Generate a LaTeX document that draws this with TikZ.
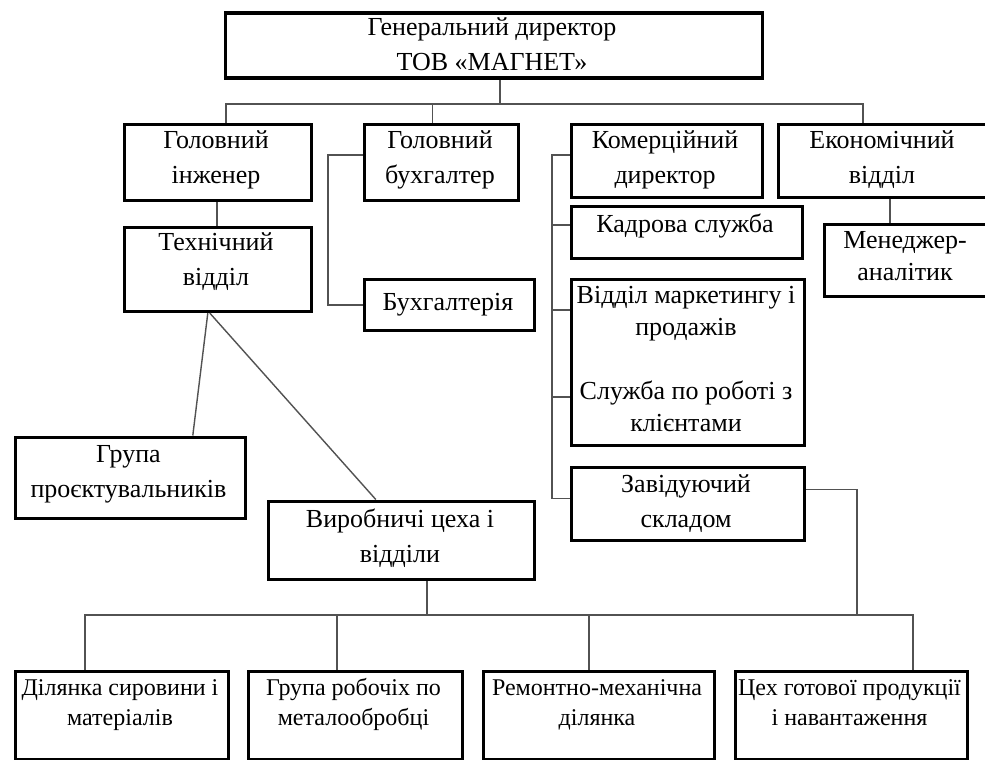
\documentclass[tikz,border=0pt]{standalone}
\usepackage{fontspec}
\setmainfont{Liberation Serif}
\begin{document}
\begin{tikzpicture}[x=1pt,y=-1pt,
  box/.style={draw=black, line width=3.6pt, inner sep=0pt, anchor=north west},
  txt/.style={inner sep=0pt, anchor=north, align=center,
    font=\fontsize{26}{35}\selectfont},
  tight/.style={font=\fontsize{26}{32}\selectfont},
  bottomtxt/.style={font=\fontsize{24}{30}\selectfont},
  conn/.style={draw=black!68, line width=1.4pt}]
\useasboundingbox (0,0) rectangle (985,760);
\clip (0,0) rectangle (985,760);
\fill[white] (0,0) rectangle (985,760);

% ---------- boxes ----------
\node[box, minimum width=537pt, minimum height=65pt] (ceo) at (223.5,11.5) {};
\node[box, minimum width=187pt, minimum height=76pt] (gi) at (122.5,122.5) {};
\node[box, minimum width=187pt, minimum height=84pt] (td) at (122.5,225.5) {};
\node[box, minimum width=154pt, minimum height=76pt] (gb) at (362.5,122.5) {};
\node[box, minimum width=170pt, minimum height=51pt] (bh) at (362.5,277.5) {};
\node[box, minimum width=191pt, minimum height=73pt] (kd) at (569.5,122.5) {};
\node[box, minimum width=211pt, minimum height=73pt] (ev) at (776.5,122.5) {};
\node[box, minimum width=231pt, minimum height=52pt] (ks) at (569.5,204.5) {};
\node[box, minimum width=233pt, minimum height=166pt] (vm) at (569.5,277.5) {};
\node[box, minimum width=233pt, minimum height=73pt] (zs) at (569.5,465.5) {};
\node[box, minimum width=165pt, minimum height=72pt] (ma) at (822.5,222.5) {};
\node[box, minimum width=230pt, minimum height=81pt] (gp) at (13.5,435.5) {};
\node[box, minimum width=266pt, minimum height=78pt] (vc) at (266.5,499.5) {};
\node[box, minimum width=213pt, minimum height=88pt] (b1) at (13.5,669.5) {};
\node[box, minimum width=214pt, minimum height=88pt] (b2) at (246.5,669.5) {};
\node[box, minimum width=231pt, minimum height=88pt] (b3) at (481.5,669.5) {};
\node[box, minimum width=232pt, minimum height=88pt] (b4) at (733.5,669.5) {};

% ---------- labels (a strut on the first line fixes the baseline) ----------
\node[txt] (ceo-t) at (492,10.5) {\strut Генеральний директор\\ТОВ «МАГНЕТ»};
\node[txt] (gi-t) at (216,123.5) {\strut Головний\\інженер};
\node[txt] (td-t) at (216,225.5) {\strut Технічний\\відділ};
\node[txt] (gb-t) at (440,123.5) {\strut Головний\\бухгалтер};
\node[txt] (bh-t) at (448,285.5) {\strut Бухгалтерія};
\node[txt] (kd-t) at (665,123.5) {\strut Комерційний\\директор};
\node[txt] (ev-t) at (882,123.5) {\strut Економічний\\відділ};
\node[txt] (ks-t) at (685,207.5) {\strut Кадрова служба};
\node[txt, tight] (vm-t) at (686,280.6) {\strut Відділ маркетингу і\\продажів\\[32pt]Служба по роботі з\\клієнтами};
\node[txt] (zs-t) at (686,467.5) {\strut Завідуючий\\складом};
\node[txt, tight] (ma-t) at (905,225.6) {\strut Менеджер-\\аналітик};
\node[txt] (gp-t) at (128.5,437.5) {\strut Група\\проєктувальників};
\node[txt] (vc-t) at (400,502.5) {\strut Виробничі цеха і\\відділи};
\node[txt, bottomtxt] (b1-t) at (120,674) {\strut Ділянка сировини і\\матеріалів};
\node[txt, bottomtxt] (b2-t) at (353.5,674) {\strut Група робочіх по\\металообробці};
\node[txt, bottomtxt] (b3-t) at (597,674) {\strut Ремонтно-механічна\\ділянка};
\node[txt, bottomtxt] (b4-t) at (849.5,674) {\strut Цех готової продукції\\і навантаження};

% ---------- connectors ----------
\coordinate (topbus) at (500,104);
\draw[conn] (topbus |- ceo.south) -- (topbus);
\draw[conn] ([xshift=8pt]gi.north) |- ([xshift=-21pt]ev.north |- topbus) -- ([xshift=-21pt]ev.north);
\draw[conn] ([xshift=-9pt]gb.north) -- ([xshift=-9pt]gb.north |- topbus);

\draw[conn] ([xshift=-1pt]gi.south) -- ([xshift=-1pt]td.north);
\draw[conn] ([xshift=-10pt]td.south) -- ([xshift=62.5pt]gp.north);
\draw[conn] ([xshift=-8pt]td.south) -- ([xshift=-25.5pt]vc.north);

\coordinate (gbrail) at (328,0);
\draw[conn] ([yshift=-32.5pt]gb.north west) -| (gbrail |- bh.west) -- (bh.west);

\coordinate (kdrail) at (552,0);
\draw[conn] ([yshift=-32.5pt]kd.north west) -| ([yshift=-33pt]kdrail |- zs.north) -- ([yshift=-33pt]zs.north west);
\draw[conn] (kdrail |- 0,225) -- (ks.west |- 0,225);
\draw[conn] (kdrail |- 0,310) -- (vm.west |- 0,310);
\draw[conn] (kdrail |- 0,397) -- (vm.west |- 0,397);

\draw[conn] ([xshift=6pt]ev.south) -- ([xshift=6pt]ev.south |- ma.north);

\coordinate (lowbus) at (0,615);
\draw[conn] ([yshift=-24pt]zs.north east) -| (857,615);
\draw[conn] ([xshift=25.5pt]vc.south) -- ([xshift=25.5pt]vc.south |- lowbus);
\draw[conn] ([xshift=-37pt]b1.north) |- ([xshift=61.5pt]b4.north |- lowbus) -- ([xshift=61.5pt]b4.north);
\draw[conn] ([xshift=-18.5pt]b2.north) -- ([xshift=-18.5pt]b2.north |- lowbus);
\draw[conn] ([xshift=-10pt]b3.north) -- ([xshift=-10pt]b3.north |- lowbus);
\end{tikzpicture}
\end{document}
